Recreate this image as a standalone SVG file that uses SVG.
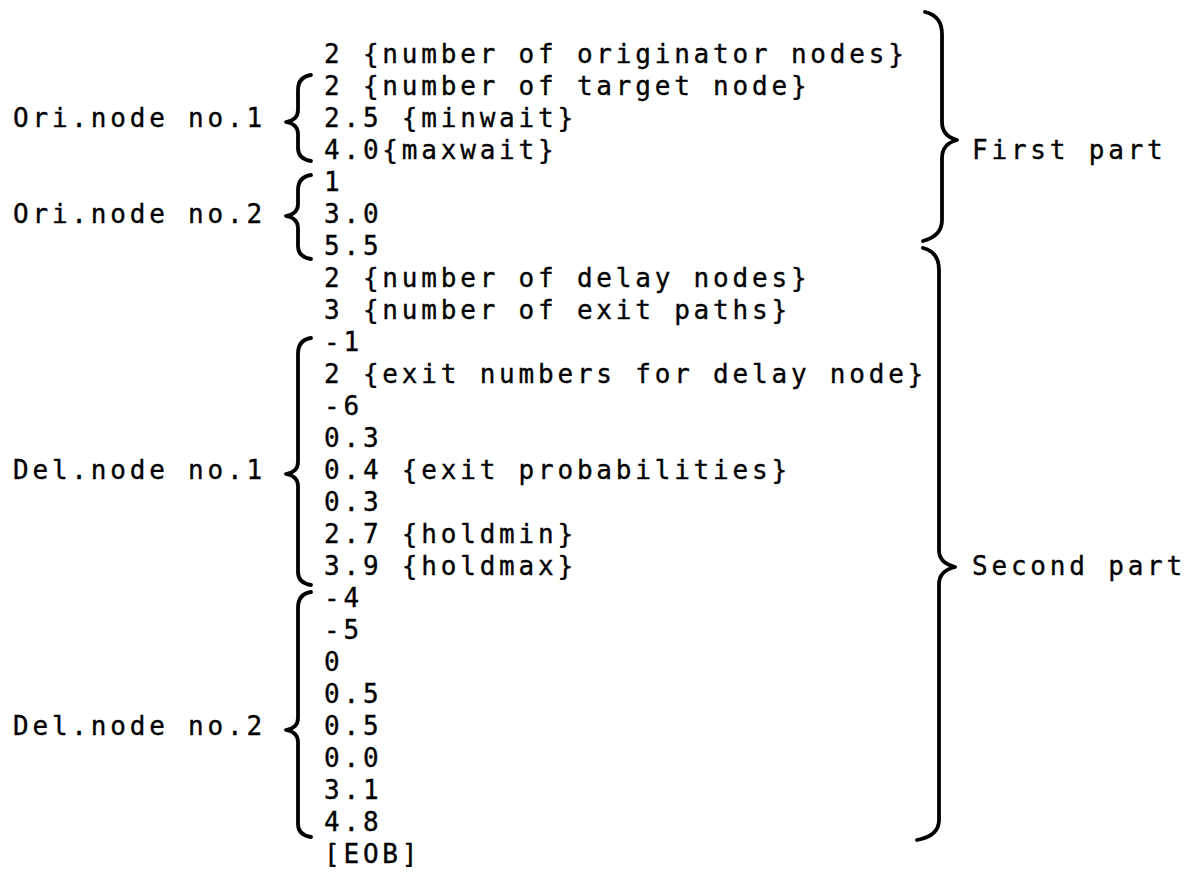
<svg xmlns="http://www.w3.org/2000/svg" width="1193" height="874" viewBox="0 0 1193 874">
<style>
text{font-family:"DejaVu Sans Mono","Liberation Mono",monospace;font-size:26px;letter-spacing:3.8px;fill:#000;stroke:#000;stroke-width:0.35}
.br{fill:none;stroke:#000;stroke-width:3.8;stroke-linecap:round;stroke-linejoin:round}
</style>
<rect width="1193" height="874" fill="#fff"/>
<g id="data">
<text x="324" y="63">2 {number of originator nodes}</text>
<text x="324" y="95">2 {number of target node}</text>
<text x="324" y="127">2.5 {minwait}</text>
<text x="324" y="159">4.0{maxwait}</text>
<text x="324" y="191">1</text>
<text x="324" y="223">3.0</text>
<text x="324" y="255">5.5</text>
<text x="324" y="287">2 {number of delay nodes}</text>
<text x="324" y="319">3 {number of exit paths}</text>
<text x="324" y="351">-1</text>
<text x="324" y="383">2 {exit numbers for delay node}</text>
<text x="324" y="415">-6</text>
<text x="324" y="447">0.3</text>
<text x="324" y="479">0.4 {exit probabilities}</text>
<text x="324" y="511">0.3</text>
<text x="324" y="543">2.7 {holdmin}</text>
<text x="324" y="575">3.9 {holdmax}</text>
<text x="324" y="607">-4</text>
<text x="324" y="639">-5</text>
<text x="324" y="671">0</text>
<text x="324" y="703">0.5</text>
<text x="324" y="735">0.5</text>
<text x="324" y="767">0.0</text>
<text x="324" y="799">3.1</text>
<text x="324" y="831">4.8</text>
<text x="324" y="863">[EOB]</text>
</g>
<g id="ori1"><text x="13" y="127">Ori.node no.1</text></g>
<g id="ori2"><text x="13" y="223">Ori.node no.2</text></g>
<g id="del1"><text x="13" y="479">Del.node no.1</text></g>
<g id="del2"><text x="13" y="735">Del.node no.2</text></g>
<g id="first"><text x="972" y="159">First part</text></g>
<g id="second"><text x="972" y="575">Second part</text></g>
<g id="connectors">
<path class="br" d="M311 75 Q298 77 298 90 L298 110 Q298 120 286 122 Q298 124 298 134 L298 148 Q298 159 311 161"/>
<path class="br" d="M311 175 Q298 177 298 190 L298 204 Q298 214 286 216 Q298 218 298 228 L298 246 Q298 257 311 259"/>
<path class="br" d="M311 338 Q298 340 298 354 L298 462 Q298 472 286 474 Q298 476 298 486 L298 572 Q298 583 311 585"/>
<path class="br" d="M311 592 Q298 594 298 608 L298 718 Q298 728 286 730 Q298 732 298 742 L298 824 Q298 835 311 837"/>
<path class="br" d="M925 12 Q942 16 942 34 L942 122 Q942 136 957 140 Q942 144 942 158 L942 220 Q942 236 923 241"/>
<path class="br" d="M923 248 Q939 252 939 270 L939 550 Q939 563 955 567 Q939 571 939 584 L939 820 Q939 836 917 840"/>
</g>
</svg>
